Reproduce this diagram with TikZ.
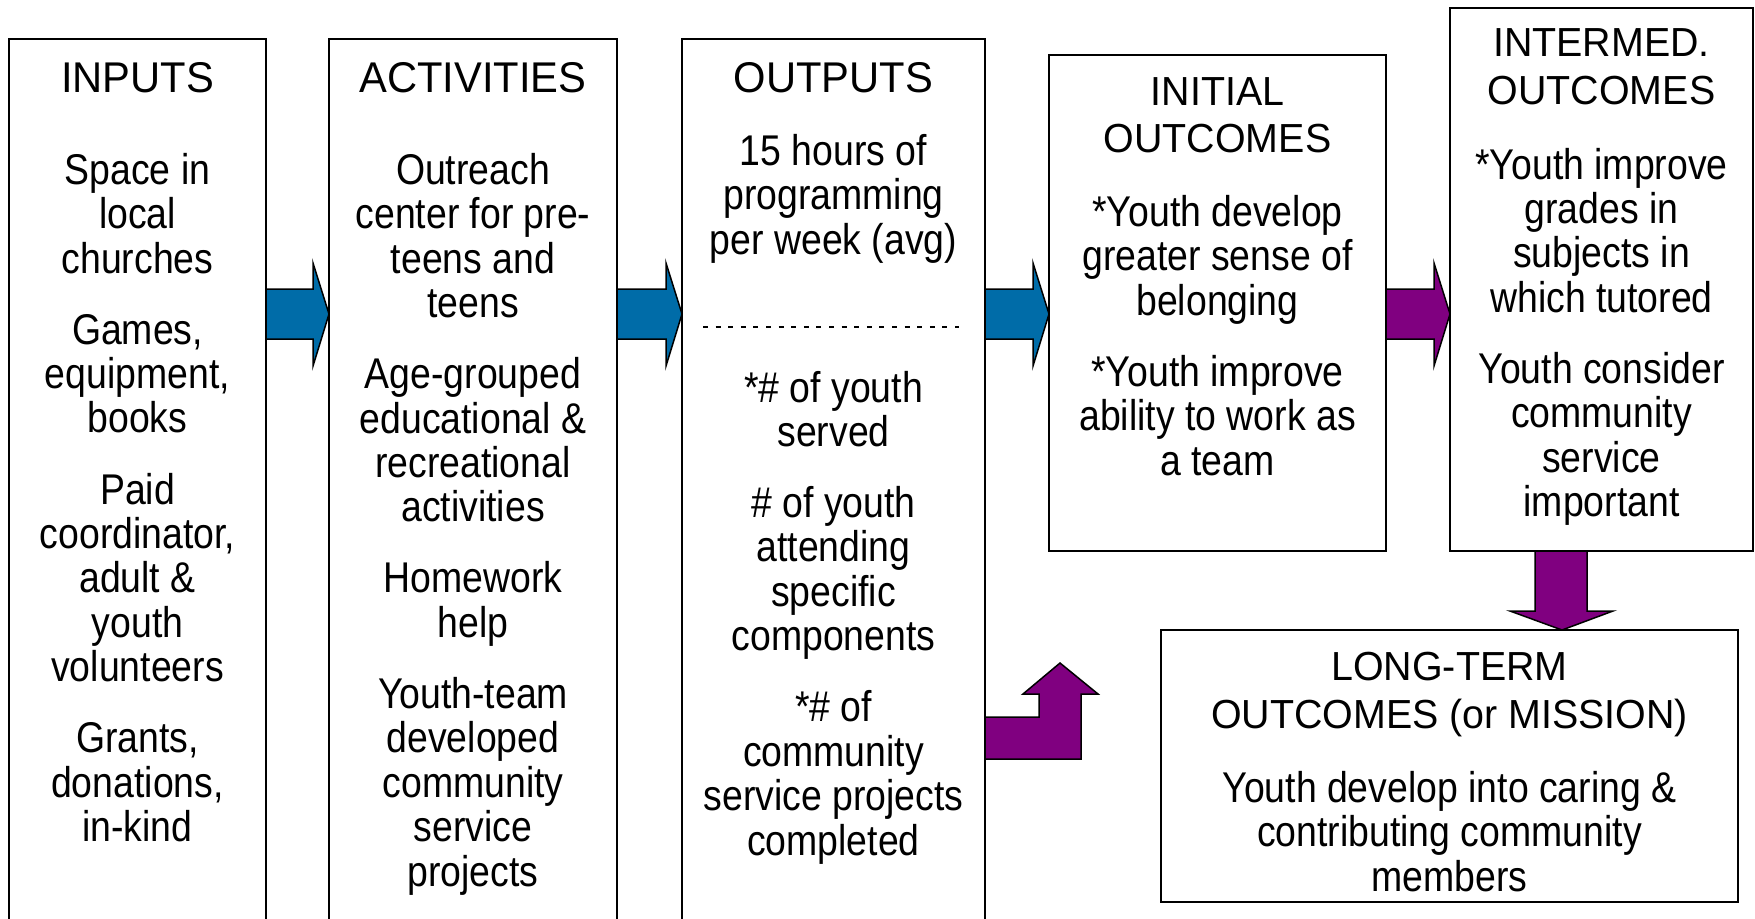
\documentclass[tikz,border=0pt]{standalone}
\usepackage{xcolor}
\usepackage{fontspec}
\setmainfont{Liberation Sans}
\newfontfamily\bodyfont{Liberation Sans}[FakeStretch=0.87]
\newfontfamily\headfont{Liberation Sans}[FakeStretch=0.97]
\usepackage{tikz}
\usetikzlibrary{calc}

\definecolor{arrowblue}{RGB}{0,108,168}
\definecolor{arrowpurple}{RGB}{128,0,128}
\newcommand{\pgap}{26.7pt}

\begin{document}
\begin{tikzpicture}[x=1pt,y=-1pt,
box/.style={draw,line width=2pt,inner sep=0pt,outer sep=0pt,anchor=north west},
headtxt/.style={font=\headfont\fontsize{43}{48}\selectfont,align=center,anchor=base,inner sep=0pt},
outhead/.style={font=\headfont\fontsize{40.6}{47.5}\selectfont,align=center,anchor=base,inner sep=0pt},
bodytxt/.style={font=\bodyfont\fontsize{43}{44.4}\selectfont,align=center,anchor=base,inner sep=0pt},
bluearrow/.style={draw,line width=1.5pt,fill=arrowblue},
purplearrow/.style={draw,line width=1.5pt,fill=arrowpurple}]
\useasboundingbox (0,0) rectangle (1755,918);
\clip (0,0) rectangle (1755,918);

% the six boxes
\node (inputs) [box,minimum width=257pt,minimum height=900pt] at (9,39) {};
\node (activities) [box,minimum width=288pt,minimum height=900pt] at (329,39) {};
\node (outputs) [box,minimum width=303pt,minimum height=900pt] at (682,39) {};
\node (initial) [box,minimum width=337pt,minimum height=496pt] at (1049,55) {};
\node (intermed) [box,minimum width=303pt,minimum height=543pt] at (1450,8) {};
\node (longterm) [box,minimum width=577pt,minimum height=272pt] at (1161,630) {};

% headings (placed at the baseline of their last line)
\node (inputsHead) [headtxt] at (inputs.north |- 0,92) {INPUTS};
\node (activitiesHead) [headtxt] at (activities.north |- 0,92) {ACTIVITIES};
\node (outputsHead) [headtxt] at (outputs.north |- 0,92) {OUTPUTS};
\node (initialHead) [outhead] at (initial.north |- 0,152.8) {INITIAL\\OUTCOMES};
\node (intermedHead) [outhead] at (intermed.north |- 0,104) {INTERMED.\\OUTCOMES};
\node (longtermHead) [outhead] at (longterm.north |- 0,728.3) {LONG-TERM\\OUTCOMES (or MISSION)};

% contents
\node (inputsText) [bodytxt] at (inputs.north |- 0,841.5) {Space in\\local\\churches\\[\pgap]
  Games,\\equipment,\\books\\[\pgap]Paid\\coordinator,\\adult \&\\youth\\volunteers\\[\pgap]
  Grants,\\donations,\\in-kind};
\node (activitiesText) [bodytxt] at (activities.north |- 0,886) {Outreach\\center for pre-\\teens and\\teens\\[\pgap]
  Age-grouped\\educational \&\\recreational\\activities\\[\pgap]Homework\\help\\[\pgap]
  Youth-team\\developed\\community\\service\\projects};
\node (outputsTop) [bodytxt] at (outputs.north |- 0,254.1) {15 hours of\\programming\\per week (avg)};
\node (outputsBottom) [bodytxt] at (outputs.north |- 0,855) {*\# of youth\\served\\[\pgap]
  \# of youth\\attending\\specific\\components\\[\pgap]*\# of\\community\\service projects\\completed};
\node (initialText) [bodytxt] at (initial.north |- 0,475) {*Youth develop\\greater sense of\\belonging\\[\pgap]
  *Youth improve\\ability to work as\\a team};
\node (intermedText) [bodytxt] at (intermed.north |- 0,516.5) {*Youth improve\\grades in\\subjects in\\which tutored\\[\pgap]
  Youth consider\\community\\service\\important};
\node (longtermText) [bodytxt] at (longterm.north |- 0,891) {Youth develop into caring \&\\contributing community\\members};

\draw[dashed,dash pattern=on 5pt off 7.6pt,line width=2pt] (outputs.west |- 0,327) ++(21,0) -- ++(256,0);

% block arrows between the boxes
\draw[bluearrow] (inputs.east |- 0,289) -- ($(activities.west |- 0,289)+(-16,0)$) -- ($(activities.west |- 0,263)+(-16,0)$)
  -- (activities.west |- 0,314) -- ($(activities.west |- 0,366)+(-16,0)$) -- ($(activities.west |- 0,339)+(-16,0)$)
  -- (inputs.east |- 0,339) -- cycle;
\draw[bluearrow] (activities.east |- 0,289) -- ($(outputs.west |- 0,289)+(-16,0)$) -- ($(outputs.west |- 0,263)+(-16,0)$)
  -- (outputs.west |- 0,314) -- ($(outputs.west |- 0,366)+(-16,0)$) -- ($(outputs.west |- 0,339)+(-16,0)$)
  -- (activities.east |- 0,339) -- cycle;
\draw[bluearrow] (outputs.east |- 0,289) -- ($(initial.west |- 0,289)+(-16,0)$) -- ($(initial.west |- 0,263)+(-16,0)$)
  -- (initial.west |- 0,314) -- ($(initial.west |- 0,366)+(-16,0)$) -- ($(initial.west |- 0,339)+(-16,0)$)
  -- (outputs.east |- 0,339) -- cycle;
\draw[purplearrow] (initial.east |- 0,289) -- ($(intermed.west |- 0,289)+(-16,0)$) -- ($(intermed.west |- 0,263)+(-16,0)$)
  -- (intermed.west |- 0,314) -- ($(intermed.west |- 0,366)+(-16,0)$) -- ($(intermed.west |- 0,339)+(-16,0)$)
  -- (initial.east |- 0,339) -- cycle;
\draw[purplearrow] (intermed.south -| 1535,0) -- (1535,611) -- (1510,611) -- (longterm.north -| 1562,0)
  -- (1613,611) -- (1587,611) -- (intermed.south -| 1587,0) -- cycle;

% bent arrow out of the outputs box
\coordinate (bendTip) at (1060,663);
\draw[purplearrow] (outputs.east |- 0,759) -- (1081,759) -- (1081,694) -- (1098,694) -- (bendTip)
  -- (1023,694) -- (1039,694) -- (1039,717) -- (outputs.east |- 0,717) -- cycle;
\end{tikzpicture}
\end{document}
